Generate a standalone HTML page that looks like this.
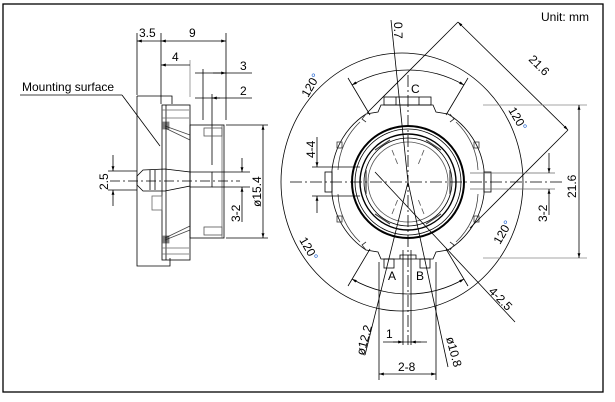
<!DOCTYPE html>
<html><head><meta charset="utf-8"><style>
html,body{margin:0;padding:0;background:#fff;}
svg{display:block;}
text{font-family:"Liberation Sans",sans-serif;font-size:12px;fill:#000;}
</style></head><body>
<svg width="615" height="402" viewBox="0 0 615 402" xmlns="http://www.w3.org/2000/svg">
<defs>
<marker id="a" viewBox="0 0 10 10" refX="10" refY="5" markerWidth="6" markerHeight="6" orient="auto-start-reverse"><path d="M0,2 L10,5 L0,8z" fill="#000"/></marker>
</defs>
<rect x="3" y="4" width="600" height="388" fill="none" stroke="#000" stroke-width="1.3"/>
<text x="541" y="21">Unit: mm</text>

<!-- ===== SIDE VIEW ===== -->
<g stroke="#000" stroke-width="0.8" fill="none">
<line x1="137" y1="33" x2="137" y2="95"/>
<line x1="161" y1="33" x2="161" y2="104"/>
<line x1="226" y1="33" x2="226" y2="120"/>
<line x1="190" y1="60" x2="190" y2="97" stroke="#888"/>
<line x1="203" y1="69" x2="203" y2="120"/>
<line x1="212" y1="94" x2="212" y2="165"/>
<line x1="137" y1="41" x2="161" y2="41" marker-start="url(#a)"/>
<line x1="161" y1="41" x2="226" y2="41" marker-start="url(#a)" marker-end="url(#a)"/>
<line x1="161" y1="65" x2="190" y2="65" marker-start="url(#a)"/>
<line x1="195" y1="73" x2="252" y2="73"/>
<line x1="213" y1="73" x2="226" y2="73" marker-end="url(#a)"/>
<line x1="195" y1="98" x2="252" y2="98"/>
<line x1="220" y1="98" x2="212" y2="98" marker-end="url(#a)"/>
<line x1="20" y1="95" x2="122" y2="95"/>
<line x1="122" y1="95" x2="160" y2="146"/>
<path d="M137,96 H172 V104"/>
<path d="M137,96 V266 H170 V258"/>
<rect x="162" y="105" width="28" height="155"/>
<line x1="166" y1="105" x2="166" y2="260"/>
<path d="M162,110 H189 M162,118 H189 M162,248 H189 M162,254 H189" stroke="#666"/>
<path d="M165,126 L190,135 M165,128 L190,140 M165,240 L190,230 M165,238 L190,226" stroke="#444"/>
<rect x="163" y="122" width="6" height="7" fill="#000" opacity="0.5"/>
<rect x="163" y="236" width="6" height="7" fill="#000" opacity="0.5"/>
<rect x="190" y="125" width="34" height="113"/>
<line x1="222" y1="125" x2="222" y2="238" stroke="#666"/>
<rect x="204" y="128" width="18" height="8" stroke="#555"/>
<rect x="204" y="227" width="18" height="8" stroke="#555"/>
<path d="M143,170 L137,176 V185 L143,191 H165 L190,186 V172 L165,169 Z"/>
<line x1="150" y1="170" x2="150" y2="190"/>
<line x1="155" y1="170" x2="155" y2="190"/>
<path d="M190,172 H212 V187 H190"/>
<rect x="152" y="196" width="10" height="14" stroke="#666"/>
<line x1="110" y1="181" x2="240" y2="181" stroke-dasharray="10,3,2,3"/>
<line x1="108" y1="171" x2="137" y2="171"/>
<line x1="108" y1="190" x2="137" y2="190"/>
<line x1="113" y1="155" x2="113" y2="171" marker-end="url(#a)"/>
<line x1="113" y1="206" x2="113" y2="190" marker-end="url(#a)"/>
<line x1="212" y1="172" x2="250" y2="172"/>
<line x1="212" y1="187" x2="250" y2="187"/>
<line x1="242" y1="158" x2="242" y2="172" marker-end="url(#a)"/>
<line x1="242" y1="222" x2="242" y2="187" marker-end="url(#a)"/>
<line x1="226" y1="125" x2="268" y2="125"/>
<line x1="226" y1="238" x2="268" y2="238"/>
<line x1="263" y1="125" x2="263" y2="238" marker-start="url(#a)" marker-end="url(#a)"/>
</g>
<text x="139" y="37">3.5</text>
<text x="189" y="37">9</text>
<text x="172" y="61">4</text>
<text x="240" y="70">3</text>
<text x="240" y="95">2</text>
<text x="22" y="91">Mounting surface</text>
<text transform="translate(108,190) rotate(-90)">2.5</text>
<text transform="translate(240,222) rotate(-90)">3-2</text>
<text transform="translate(261,207) rotate(-90)">ø15.4</text>

<!-- ===== FRONT VIEW ===== -->
<g stroke="#000" stroke-width="0.8" fill="none">
<ellipse cx="402" cy="182" rx="121" ry="129"/>
<path d="M352,85 A112,112 0 0 1 464,85" marker-start="url(#a)" marker-end="url(#a)"/>
<path d="M352,279 A112,112 0 0 0 464,279" marker-start="url(#a)" marker-end="url(#a)"/>
<line x1="348" y1="78" x2="370" y2="115"/><line x1="468" y1="78" x2="446" y2="115"/>
<line x1="348" y1="286" x2="370" y2="249"/><line x1="468" y1="286" x2="446" y2="249"/>
<path d="M381,105 H433 L436,112 L448,114 A76,76 0 0 1 484,170 V194 A76,76 0 0 1 448,250 L436,252 L433,259 H381 L378,252 L366,250 A76,76 0 0 1 332,194 V170 A76,76 0 0 1 366,114 L378,112 Z"/>
<path d="M360,122 A70,70 0 0 0 338,170 M338,194 A70,70 0 0 0 360,242 M456,122 A70,70 0 0 1 478,170 M478,194 A70,70 0 0 1 456,242" stroke="#444"/>
<path d="M366,114 l-4,5 l4,3 M450,114 l4,5 l-4,3 M366,250 l-4,-5 l4,-3 M450,250 l4,-5 l-4,-3" stroke="#333"/>
<rect x="337" y="142" width="5" height="6" stroke="#333"/><rect x="474" y="142" width="5" height="6" stroke="#333"/>
<rect x="337" y="216" width="5" height="6" stroke="#333"/><rect x="474" y="216" width="5" height="6" stroke="#333"/>
<rect x="384" y="97" width="47" height="8"/>
<line x1="396" y1="97" x2="396" y2="105"/><line x1="419" y1="97" x2="419" y2="105"/>
<rect x="325" y="172" width="7" height="20"/>
<rect x="484" y="172" width="7" height="20"/>
<rect x="384" y="259" width="10" height="9"/>
<rect x="420" y="259" width="10" height="9"/>
<path d="M400,259 V255 H416 V259"/>
<circle cx="408" cy="182" r="56" stroke-width="2"/>
<circle cx="408" cy="182" r="53"/>
<circle cx="408" cy="182" r="48" stroke-width="1.4"/>
<circle cx="408" cy="182" r="44"/>
<circle cx="408" cy="182" r="40" stroke="#555"/>
<path d="M375,150 L390,140 M441,150 L426,140 M375,214 L390,224 M441,214 L426,224 M366,170 V194 M450,170 V194" stroke="#444" stroke-width="1.2"/>
<path d="M392,150 L398,165 M424,150 L418,165 M392,214 L398,199 M424,214 L418,199" stroke="#555" stroke-dasharray="6,3"/>
<line x1="290" y1="182" x2="565" y2="182" stroke-dasharray="12,3,2,3"/>
<line x1="408" y1="75" x2="408" y2="345" stroke-dasharray="12,3,2,3"/>
<line x1="403" y1="250" x2="403" y2="345"/><line x1="411" y1="250" x2="411" y2="345"/>
<line x1="391" y1="20" x2="408" y2="182"/>
<line x1="365" y1="355" x2="408" y2="182"/>
<line x1="448" y1="367" x2="408" y2="182"/>
<line x1="458" y1="22" x2="367" y2="113"/>
<line x1="458" y1="22" x2="568" y2="130" marker-start="url(#a)" marker-end="url(#a)"/>
<line x1="568" y1="130" x2="470" y2="228"/>
<line x1="375" y1="172" x2="515" y2="322"/>
<line x1="312" y1="167" x2="360" y2="167"/>
<line x1="312" y1="196" x2="360" y2="196"/>
<line x1="317" y1="137" x2="317" y2="167" marker-end="url(#a)"/>
<line x1="317" y1="213" x2="317" y2="196" marker-end="url(#a)"/>
<line x1="483" y1="105" x2="587" y2="105" stroke="#888"/>
<line x1="483" y1="258" x2="587" y2="258" stroke="#888"/>
<line x1="579" y1="105" x2="579" y2="258" marker-start="url(#a)" marker-end="url(#a)"/>
<line x1="470" y1="173" x2="555" y2="173" stroke="#666"/>
<line x1="470" y1="189" x2="555" y2="189" stroke="#666"/>
<line x1="549" y1="153" x2="549" y2="173" marker-end="url(#a)"/>
<line x1="549" y1="215" x2="549" y2="189" marker-end="url(#a)"/>
<line x1="379" y1="262" x2="379" y2="380"/>
<line x1="436" y1="262" x2="436" y2="380"/>
<line x1="379" y1="374" x2="436" y2="374" marker-start="url(#a)" marker-end="url(#a)"/>
<line x1="383" y1="342" x2="427" y2="342"/>
<line x1="393" y1="342" x2="403" y2="342" marker-end="url(#a)"/>
<line x1="421" y1="342" x2="411" y2="342" marker-end="url(#a)"/>
</g>
<text transform="translate(394,22) rotate(90)">0.7</text>
<text x="411" y="93">C</text>
<text x="388" y="280">A</text>
<text x="416" y="280">B</text>
<text transform="translate(308,98) rotate(-60)">120<tspan fill="#1a5fd0">°</tspan></text>
<text transform="translate(508,110) rotate(60)">120<tspan fill="#1a5fd0">°</tspan></text>
<text transform="translate(299,240) rotate(60)">120<tspan fill="#1a5fd0">°</tspan></text>
<text transform="translate(500,245) rotate(-60)">120<tspan fill="#1a5fd0">°</tspan></text>
<text transform="translate(528,60) rotate(45)">21.6</text>
<text transform="translate(576,198) rotate(-90)">21.6</text>
<text transform="translate(547,222) rotate(-90)">3-2</text>
<text transform="translate(315,158) rotate(-90)">4-4</text>
<text transform="translate(488,292) rotate(45)">4-2.5</text>
<text transform="translate(364,356) rotate(-75)">ø12.2</text>
<text transform="translate(446,338) rotate(75)">ø10.8</text>
<text x="386" y="338">1</text>
<text x="398" y="371">2-8</text>
</svg>
</body></html>
